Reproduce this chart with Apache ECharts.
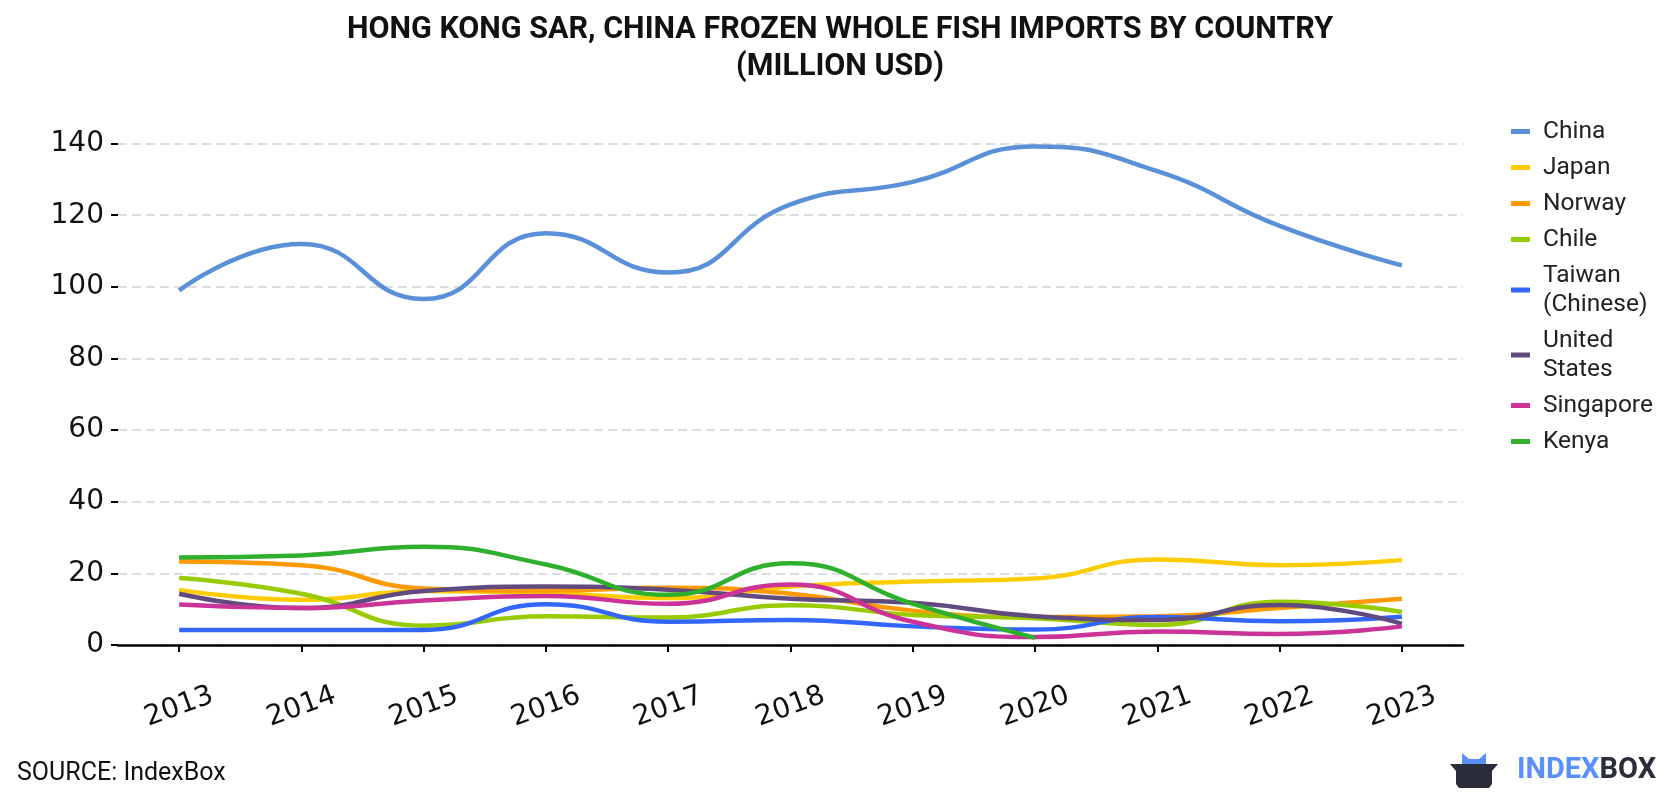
<!DOCTYPE html>
<html>
<head>
<meta charset="utf-8">
<script src="https://cdn.jsdelivr.net/npm/echarts@6/dist/echarts.min.js"></script>
<style>
html,body{margin:0;padding:0;background:#fff;}
#chart{width:1680px;height:800px;}
</style>
</head>
<body>
<div id="chart"></div>
<script>
const years = ['2013','2014','2015','2016','2017','2018','2019','2020','2021','2022','2023'];
const yTicks = [0, 20, 40, 60, 80, 100, 120, 140];
const china     = [99.0, 112.0, 96.6, 115.0, 104.0, 123.0, 129.3, 139.2, 132.3, 117.0, 106.0];
const japan     = [15.4, 12.6, 15.1, 14.6, 13.1, 16.3, 17.7, 18.6, 23.9, 22.3, 23.7];
const norway    = [23.3, 22.3, 15.8, 15.2, 16.0, 14.3, 9.6, 7.8, 8.0, 10.3, 12.9];
const chile     = [18.7, 14.3, 5.4, 8.0, 7.7, 11.1, 8.4, 7.5, 5.6, 12.1, 9.2];
const taiwan    = [4.2, 4.2, 4.2, 11.4, 6.5, 7.0, 5.2, 4.3, 7.8, 6.6, 7.9];
const us        = [14.3, 10.3, 15.1, 16.3, 15.4, 12.9, 11.8, 8.0, 7.0, 11.2, 5.9];
const singapore = [11.3, 10.3, 12.4, 13.7, 11.5, 16.9, 6.5, 2.2, 3.8, 3.1, 5.2];
const kenya     = [24.4, 25.0, 27.4, 22.5, 14.0, 22.8, 11.5, 2.0, null, null, null];

const seriesNames = ['China','Japan','Norway','Chile','Taiwan\n(Chinese)','United\nStates','Singapore','Kenya'];
const seriesData = [china, japan, norway, chile, taiwan, us, singapore, kenya];
const colors = ['#5a90d8','#ffcc00','#ff9900','#99cc00','#3366ff','#614a7e','#cc3399','#2eb02e'];

const chart = echarts.init(document.getElementById('chart'), null, {renderer:'canvas'});
const option = {
  animation: false,
  backgroundColor: '#ffffff',
  color: colors,
  title: {
    text: 'HONG KONG SAR, CHINA FROZEN WHOLE FISH IMPORTS BY COUNTRY\n(MILLION USD)',
    left: 'center',
    top: 7,
    textStyle: {
      fontFamily: "'Roboto', sans-serif",
      fontWeight: 'bold',
      fontSize: 30.5,
      lineHeight: 37,
      color: '#111'
    }
  },
  legend: {
    orient: 'vertical',
    left: 1506,
    top: 112,
    icon: 'rect',
    itemWidth: 19,
    itemHeight: 5,
    itemGap: 7,
    textStyle: {
      fontFamily: 'Roboto, sans-serif',
      fontSize: 24.5,
      lineHeight: 29,
      color: '#222',
      padding: [0,0,0,8]
    },
    data: seriesNames
  },
  grid: {
    left: 118,
    right: 217,
    top: 143.6,
    bottom: 155,
    containLabel: false
  },
  xAxis: {
    type: 'category',
    data: years,
    boundaryGap: true,
    offset: 19,
    axisLine: {show: true, lineStyle: {color: '#000', width: 2.5}},
    axisTick: {show: true, alignWithLabel: true, length: 7, lineStyle: {color: '#000', width: 2}},
    axisLabel: {
      rotate: 20,
      align: 'center',
      verticalAlign: 'middle',
      margin: 43,
      fontFamily: "'DejaVu Sans', sans-serif",
      fontSize: 28,
      color: '#111'
    },
    splitLine: {show: false}
  },
  yAxis: {
    type: 'value',
    min: yTicks[0],
    max: yTicks[yTicks.length - 1],
    interval: 20,
    axisLine: {show: false},
    axisTick: {show: true, length: 7, lineStyle: {color: '#000', width: 2}},
    axisLabel: {
      margin: 14,
      fontFamily: "'DejaVu Sans', sans-serif",
      fontSize: 28,
      color: '#111'
    },
    splitLine: {show: true, lineStyle: {color: '#dddddd', width: 2, type: [9, 5]}}
  },
  series: seriesNames.map((n, i) => ({
    name: n,
    type: 'line',
    data: seriesData[i],
    smooth: 0.5,
    symbol: 'none',
    connectNulls: false,
    lineStyle: {width: 4.5, color: colors[i]},
    itemStyle: {color: colors[i]},
    emphasis: {disabled: true}
  })),
  graphic: [
    {
      type: 'text',
      left: 17,
      top: 761,
      style: {text: 'SOURCE: IndexBox', font: "25px Roboto, sans-serif", fill: '#111'}
    },
    {
      type: 'polygon',
      shape: {points: [[1462,767],[1462,753],[1469,759],[1479,759],[1486,753],[1486,767]]},
      style: {fill: '#5b8ff9'}
    },
    {
      type: 'polygon',
      shape: {points: [[1450,764],[1498,764],[1492,771],[1492,784],[1489,788],[1459,788],[1456,784],[1456,771]]},
      style: {fill: '#2b2d3a'}
    },
    {
      type: 'text',
      left: 1517,
      top: 756,
      style: {
        text: '{a|INDEX}{b|BOX}',
        rich: {
          a: {fontFamily: 'Roboto, sans-serif', fontWeight: 'bold', fontSize: 29, fill: '#5b8ff9', color: '#5b8ff9'},
          b: {fontFamily: 'Roboto, sans-serif', fontWeight: 'bold', fontSize: 29, fill: '#2b2d3a', color: '#2b2d3a'}
        }
      }
    }
  ]
};
chart.setOption(option);
</script>
</body>
</html>
